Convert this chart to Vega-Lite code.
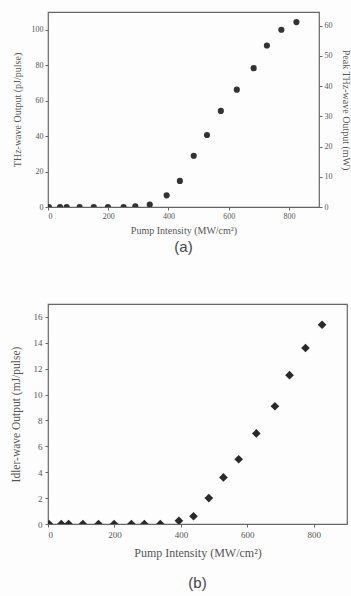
{
  "$schema": "https://vega.github.io/schema/vega-lite/v6.json",
  "autosize": "none",
  "padding": {"left": 48, "top": 12, "right": 303, "bottom": 584},
  "background": "#fdfdfd",
  "config": {
    "font": "Liberation Serif",
    "view": {"stroke": "#666", "strokeWidth": 1.2},
    "axis": {"grid": false, "domain": false, "labelColor": "#555", "titleColor": "#555", "tickColor": "#666", "labelFont": "Liberation Serif", "titleFont": "Liberation Serif", "titleFontWeight": "normal"},
    "title": {"font": "Liberation Sans", "color": "#444", "fontWeight": "normal", "orient": "bottom"}
  },
  "data": {"values": [
    {"pump": 3, "thz": 0, "idler": 0},
    {"pump": 40, "thz": 0, "idler": 0},
    {"pump": 62, "thz": 0, "idler": 0},
    {"pump": 105, "thz": 0, "idler": 0},
    {"pump": 152, "thz": 0, "idler": 0},
    {"pump": 199, "thz": 0, "idler": 0},
    {"pump": 251, "thz": 0, "idler": 0},
    {"pump": 290, "thz": 0.4, "idler": 0},
    {"pump": 338, "thz": 1.4, "idler": 0},
    {"pump": 394, "thz": 6.6, "idler": 0.25},
    {"pump": 438, "thz": 14.7, "idler": 0.6},
    {"pump": 484, "thz": 28.9, "idler": 2.0},
    {"pump": 528, "thz": 40.6, "idler": 3.6},
    {"pump": 574, "thz": 54.2, "idler": 5.0},
    {"pump": 627, "thz": 66.2, "idler": 7.0},
    {"pump": 683, "thz": 78.3, "idler": 9.1},
    {"pump": 727, "thz": 91.1, "idler": 11.5},
    {"pump": 775, "thz": 100, "idler": 13.6},
    {"pump": 825, "thz": 104.3, "idler": 15.4}
  ]},
  "vconcat": [
    {
      "width": 271,
      "height": 195,
      "title": {"text": "(a)", "fontSize": 15, "offset": 5},
      "layer": [
        {
          "mark": {"type": "point", "shape": "circle", "filled": true, "size": 38, "color": "#333", "opacity": 1, "clip": true},
          "encoding": {
            "x": {"field": "pump", "type": "quantitative", "scale": {"domain": [0, 900], "nice": false},
              "axis": {"values": [0, 200, 400, 600, 800], "title": "Pump Intensity (MW/cm²)", "labelFontSize": 8, "titleFontSize": 10, "tickSize": 3, "labelPadding": 2, "titlePadding": 5}},
            "y": {"field": "thz", "type": "quantitative", "scale": {"domain": [0, 110], "nice": false},
              "axis": {"values": [0, 20, 40, 60, 80, 100], "title": "THz-wave Output (pJ/pulse)", "labelFontSize": 8, "titleFontSize": 10, "tickSize": 3, "labelPadding": 2, "titlePadding": 9}}
          }
        },
        {
          "data": {"values": [{"peak": 0}, {"peak": 64.5}]},
          "mark": {"type": "point", "opacity": 0},
          "encoding": {
            "y": {"field": "peak", "type": "quantitative", "scale": {"domain": [0, 64.5], "nice": false},
              "axis": {"orient": "right", "values": [0, 10, 20, 30, 40, 50, 60], "title": "Peak THz-wave Output (mW)", "labelFontSize": 8, "titleFontSize": 10, "tickSize": 3, "labelPadding": 2, "titlePadding": 8}}
          }
        }
      ],
      "resolve": {"scale": {"y": "independent"}}
    },
    {
      "width": 299,
      "height": 220,
      "title": {"text": "(b)", "fontSize": 15, "offset": 18},
      "mark": {"type": "point", "shape": "diamond", "filled": true, "size": 75, "color": "#2a2a2a", "opacity": 1, "clip": true},
      "encoding": {
        "x": {"field": "pump", "type": "quantitative", "scale": {"domain": [0, 900], "nice": false},
          "axis": {"values": [0, 200, 400, 600, 800], "title": "Pump Intensity (MW/cm²)", "labelFontSize": 9, "titleFontSize": 12, "tickSize": 3, "labelPadding": 3, "titlePadding": 8}},
        "y": {"field": "idler", "type": "quantitative", "scale": {"domain": [0, 17], "nice": false},
          "axis": {"values": [0, 2, 4, 6, 8, 10, 12, 14, 16], "title": "Idler-wave Output (mJ/pulse)", "labelFontSize": 9, "titleFontSize": 11.5, "tickSize": 3, "labelPadding": 3, "titlePadding": 12}}
      }
    }
  ],
  "spacing": 97,
  "bounds": "flush"
}
